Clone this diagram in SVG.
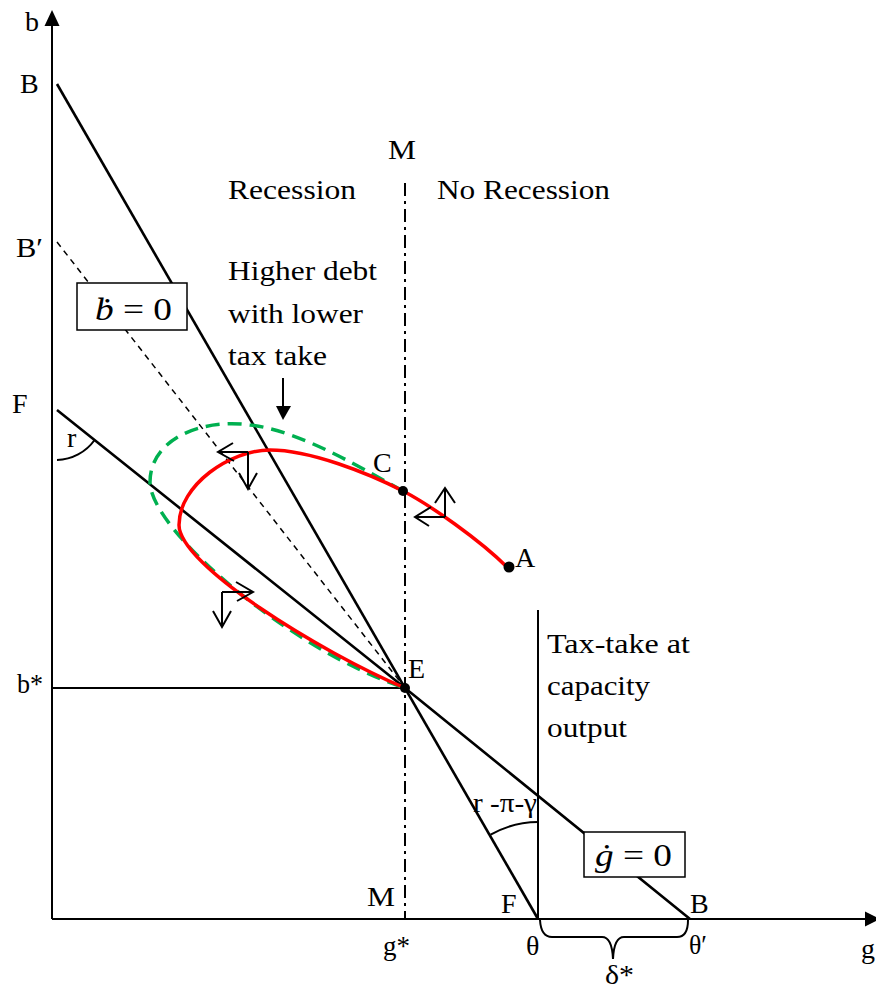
<svg xmlns="http://www.w3.org/2000/svg" width="876" height="992" viewBox="0 0 876 992">
<style>
text{font-family:"Liberation Serif","Times New Roman",serif;font-size:28px;fill:#000}
.ln{stroke:#000;stroke-width:2.6;fill:none}
.ax{stroke:#000;stroke-width:2;fill:none}
.dash{stroke:#000;stroke-width:1.5;stroke-dasharray:6 5;fill:none}
.dd{stroke:#000;stroke-width:2;stroke-dasharray:13 5 3 5;fill:none}
.red{stroke:#FF0000;stroke-width:3.5;fill:none}
.grn{stroke:#00B050;stroke-width:3.5;stroke-dasharray:14 8;fill:none}
.arr{stroke:#000;stroke-width:2;fill:none}
.box{fill:#fff;stroke:#000;stroke-width:1.5}
.m{font-size:32px}
</style>
<rect x="0" y="0" width="876" height="992" fill="#fff"/>
<g id="axes">
<line class="ax" x1="52" y1="22" x2="52" y2="919"/>
<polygon points="52,10 44.5,26 59.5,26" fill="#000"/>
<line class="ax" x1="52" y1="919" x2="868" y2="919"/>
<polygon points="880,919 865,911.5 865,926.5" fill="#000"/>
<text x="25" y="31">b</text>
<text x="861" y="958">g</text>
</g>
<g id="connectors">
<line class="dd" x1="405" y1="183" x2="405" y2="919"/>
<line class="ax" x1="538" y1="610" x2="538" y2="919"/>
<line class="ax" x1="52" y1="688" x2="405" y2="688"/>
<line class="dash" x1="57" y1="242" x2="405" y2="688"/>
<line class="ln" x1="57" y1="84" x2="538" y2="919"/>
<polyline class="ln" points="57,410 405,688 690,919"/>
<path class="ax" d="M57,460 A48,48 0 0 0 94.6,440"/>
<path class="ax" d="M490.6,834.7 A95,95 0 0 1 538,822"/>
<path class="ax" d="M540,920 Q541,937 552,937 L602,937 Q612,937 613,959 Q614,937 624,937 L677,937 Q688,937 688,920"/>
<path class="grn" d="M403,491 C370,473 300,430 250,425 C200,418 150,440 150,482 C150,530 290,650 405,688"/>
<path class="red" d="M508,568 C480,540 430,505 403,491 C368,473 310,450 270,450 C230,450 179,485 179,525 C179,565 320,652 405,688"/>
<line class="arr" x1="283" y1="378" x2="283" y2="408"/>
<polygon points="276,406 291,406 283,420" fill="#000"/>
</g>
<g id="direction-arrows">
<path class="arr" d="M248,452 H218 M233,443 L218,452 L234,461 M248,452 V489 M239,473 L248,489 L257,473"/>
<path class="arr" d="M445,517 H415 M431,507 L415,517 L429,526 M445,517 V488 M435,503 L445,488 L455,503"/>
<path class="arr" d="M222,592 H253 M236,582 L253,592 L237,601 M222,592 V627 M213,611 L222,627 L231,611"/>
</g>
<g id="node-bdot">
<rect class="box" x="77" y="283" width="110" height="47"/>
<text class="m" x="95" y="320" textLength="77" lengthAdjust="spacingAndGlyphs"><tspan font-style="italic">ḃ</tspan> = 0</text>
</g>
<g id="node-gdot">
<rect class="box" x="584" y="832" width="101" height="45"/>
<text class="m" x="595" y="866" textLength="77" lengthAdjust="spacingAndGlyphs"><tspan font-style="italic">ġ</tspan> = 0</text>
</g>
<g id="node-C">
<circle cx="403" cy="491" r="5"/>
<text x="373" y="472">C</text>
</g>
<g id="node-A">
<circle cx="509" cy="567" r="5.5"/>
<text x="515" y="567">A</text>
</g>
<g id="node-E">
<circle cx="405" cy="688" r="5"/>
<text x="408" y="678">E</text>
</g>
<g id="labels">
<text x="20" y="93">B</text>
<text x="16" y="257" textLength="27" lengthAdjust="spacingAndGlyphs">B′</text>
<text x="12" y="413">F</text>
<text x="67" y="447">r</text>
<text x="17" y="693" textLength="26" lengthAdjust="spacingAndGlyphs">b*</text>
<text x="388" y="159" textLength="28" lengthAdjust="spacingAndGlyphs">M</text>
<text x="228" y="199" textLength="128" lengthAdjust="spacingAndGlyphs">Recession</text>
<text x="437" y="199" textLength="173" lengthAdjust="spacingAndGlyphs">No Recession</text>
<text x="228" y="280" textLength="149" lengthAdjust="spacingAndGlyphs">Higher debt</text>
<text x="228" y="323" textLength="135" lengthAdjust="spacingAndGlyphs">with lower</text>
<text x="228" y="365" textLength="99" lengthAdjust="spacingAndGlyphs">tax take</text>
<text x="547" y="653" textLength="143" lengthAdjust="spacingAndGlyphs">Tax-take at</text>
<text x="547" y="695" textLength="103" lengthAdjust="spacingAndGlyphs">capacity</text>
<text x="547" y="737" textLength="80" lengthAdjust="spacingAndGlyphs">output</text>
<text x="473" y="812" textLength="64" lengthAdjust="spacingAndGlyphs">r -π-γ</text>
<text x="367" y="906" textLength="28" lengthAdjust="spacingAndGlyphs">M</text>
<text x="501" y="913">F</text>
<text x="690" y="913">B</text>
<text x="383" y="955" textLength="27" lengthAdjust="spacingAndGlyphs">g*</text>
<text x="526" y="955">θ</text>
<text x="689" y="954" textLength="18" lengthAdjust="spacingAndGlyphs">θ′</text>
<text x="605" y="984" textLength="29" lengthAdjust="spacingAndGlyphs">δ*</text>
</g>
</svg>
